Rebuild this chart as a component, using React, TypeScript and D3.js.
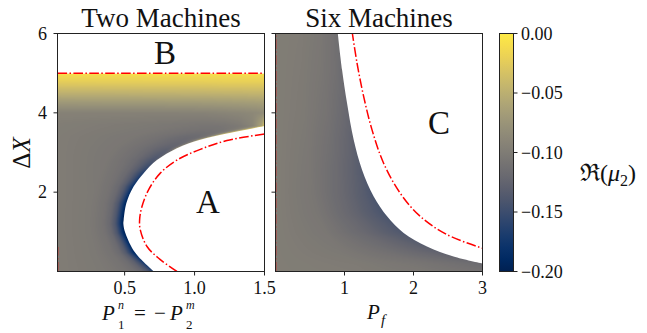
import React, { useMemo } from "react";
import * as d3 from "d3";

// axes
const leftTicksX = [0.5, 1.0, 1.5];
const rightTicksX = [1, 2, 3];
const ticksY = [2, 4, 6];
const cbarTicks = [0, -0.05, -0.1, -0.15, -0.2];
const vRange = [-0.2, 0];

// Two machines: edge of the white region A, [P, dX]
const edgeA = [
  [0.71, 0], [0.576, 0.47], [0.505, 0.97], [0.491, 1.2], [0.493, 1.3], [0.512, 1.72],
  [0.564, 2.14], [0.636, 2.48], [0.731, 2.81], [0.874, 3.11], [1.041, 3.32],
  [1.231, 3.48], [1.505, 3.67],
];
// red dash-dot boundary in region A
const redA = [
  [0.874, 0], [0.755, 0.3], [0.66, 0.63], [0.612, 1.05], [0.607, 1.3], [0.624, 1.64],
  [0.671, 2.06], [0.755, 2.48], [0.874, 2.81], [1.041, 3.08], [1.231, 3.3], [1.505, 3.47],
];
const redStubA = [[0.02, 0], [0.02, 0.62]];
const bandB = 5;

// Six machines: edge of white region C, [Pf, dX]
const edgeC = [
  [0.9, 6.05], [0.965, 5.08], [1.037, 4.24], [1.133, 3.32], [1.255, 2.56], [1.423, 1.89],
  [1.617, 1.39], [1.857, 0.97], [2.195, 0.63], [2.58, 0.38], [3.01, 0.2],
];
const redC = [
  [1.11, 6.05], [1.182, 5.25], [1.278, 4.41], [1.399, 3.57], [1.567, 2.73], [1.809, 1.97],
  [2.098, 1.39], [2.484, 0.93], [3.01, 0.58],
];
const redEdgeC = [[0, 0], [0, 6]];

// colour readings, rows of dX, columns = fraction of the way from left edge to the white edge
const leftRowsY = [0, 0.5, 1.0, 1.5, 2.0, 2.5, 3.0, 3.4, 3.7, 4.0, 4.25, 4.5, 4.75, 5.0];
const leftT = [0, 0.5, 0.7, 0.8, 0.88, 0.94, 0.985, 1];
const leftVals = [
  [-0.099, -0.103, -0.108, -0.113, -0.122, -0.138, -0.16, -0.17],
  [-0.099, -0.103, -0.109, -0.117, -0.135, -0.162, -0.188, -0.194],
  [-0.099, -0.103, -0.11, -0.12, -0.14, -0.168, -0.195, -0.2],
  [-0.099, -0.103, -0.11, -0.12, -0.14, -0.168, -0.194, -0.199],
  [-0.099, -0.103, -0.11, -0.119, -0.136, -0.16, -0.185, -0.19],
  [-0.099, -0.104, -0.111, -0.119, -0.132, -0.148, -0.162, -0.16],
  [-0.099, -0.105, -0.113, -0.12, -0.128, -0.133, -0.125, -0.09],
  [-0.099, -0.105, -0.112, -0.117, -0.118, -0.112, -0.08, -0.03],
  [-0.098, -0.103, -0.106, -0.105, -0.1, -0.09, -0.06, -0.02],
  [-0.094, -0.094, -0.093, -0.091, -0.089, -0.087, -0.084, -0.082],
  [-0.072, -0.071, -0.07, -0.069, -0.068, -0.067, -0.066, -0.066],
  [-0.048, -0.047, -0.046, -0.045, -0.045, -0.044, -0.044, -0.044],
  [-0.026, -0.025, -0.025, -0.024, -0.024, -0.024, -0.024, -0.024],
  [-0.008, -0.008, -0.008, -0.008, -0.008, -0.008, -0.008, -0.008],
];
const rightRowsY = [0, 0.2, 0.5, 1.0, 1.5, 2.0, 3.0, 4.0, 5.0, 6.0];
const rightT = [0, 0.4, 0.7, 0.9, 1];
const rightVals = [
  [-0.098, -0.1, -0.104, -0.108, -0.11],
  [-0.098, -0.101, -0.107, -0.113, -0.117],
  [-0.098, -0.103, -0.113, -0.122, -0.127],
  [-0.098, -0.105, -0.12, -0.132, -0.138],
  [-0.098, -0.106, -0.122, -0.135, -0.142],
  [-0.098, -0.106, -0.12, -0.132, -0.14],
  [-0.098, -0.104, -0.114, -0.124, -0.13],
  [-0.098, -0.102, -0.109, -0.117, -0.122],
  [-0.098, -0.101, -0.106, -0.112, -0.117],
  [-0.098, -0.1, -0.104, -0.11, -0.114],
];

const FONT = "Liberation Serif, DejaVu Serif, serif";
const INK = "#222";
const RED = "#ff0000";
const DASH = "9.6 2.4 1.5 2.4";

const top = 33.5;
const bottom = 271.5;
const yScale = d3.scaleLinear().domain([0, 6]).range([bottom, top]);
const xLeft = d3.scaleLinear().domain([0.02, 1.5]).range([57.5, 264.5]);
const xRight = d3.scaleLinear().domain([0, 3]).range([275.5, 482.5]);
const cbar = d3.scaleLinear().domain(vRange).range([bottom, top]);

const lut = d3.range(256).map((i) => d3.rgb(d3.interpolateCividis(i / 255)));

function lerpRow(tf: number[], row: number[], t: number) {
  const tt = Math.max(0, Math.min(1, t));
  const j = Math.max(0, Math.min(tf.length - 2, d3.bisectRight(tf, tt) - 1));
  const b = (tt - tf[j]) / (tf[j + 1] - tf[j]);
  return row[j] * (1 - b) + row[j + 1] * b;
}

function field(rows: number[], tf: number[], vals: number[][], y: number, t: number) {
  const i = Math.max(0, Math.min(rows.length - 2, d3.bisectRight(rows, y) - 1));
  const a = Math.max(0, Math.min(1, (y - rows[i]) / (rows[i + 1] - rows[i])));
  return lerpRow(tf, vals[i], t) * (1 - a) + lerpRow(tf, vals[i + 1], t) * a;
}

function heatmap(xs: any, edge: number[][], rows: number[], tf: number[], vals: number[][], yMax: number) {
  const [px0, px1] = xs.range();
  const w = Math.round(px1 - px0);
  const h = Math.round(bottom - top);
  const sorted = edge.slice().sort((a, b) => a[1] - b[1]);
  const edgeX = d3.scaleLinear().domain(sorted.map((d) => d[1])).range(sorted.map((d) => d[0])).clamp(true);
  const xMin = xs.domain()[0];
  const canvas = document.createElement("canvas");
  canvas.width = w;
  canvas.height = h;
  const ctx = canvas.getContext("2d")!;
  const img = ctx.createImageData(w, h);
  for (let j = 0; j < h; j++) {
    const yv = yScale.invert(top + j + 0.5);
    const xb = edgeX(yv);
    for (let i = 0; i < w; i++) {
      const k = (j * w + i) * 4;
      const xv = xs.invert(px0 + i + 0.5);
      if (yv > yMax) {
        img.data[k] = img.data[k + 1] = img.data[k + 2] = 255;
      } else {
        const v = field(rows, tf, vals, yv, (xv - xMin) / (xb - xMin));
        const c = lut[Math.max(0, Math.min(255, Math.round(((v - vRange[0]) / (vRange[1] - vRange[0])) * 255)))];
        img.data[k] = c.r;
        img.data[k + 1] = c.g;
        img.data[k + 2] = c.b;
      }
      img.data[k + 3] = 255;
    }
  }
  ctx.putImageData(img, 0, 0);
  return canvas.toDataURL();
}

const Panel = ({ id, xs, ticksX, fmt, href, white, reds, showY }: any) => {
  const [x0, x1] = xs.range();
  const line = d3.line<number[]>().x((d) => xs(d[0])).y((d) => yScale(d[1])).curve(d3.curveCatmullRom);
  return (
    <g>
      <clipPath id={id}>
        <rect x={x0} y={top} width={x1 - x0} height={bottom - top} />
      </clipPath>
      <g clipPath={`url(#${id})`}>
        <image href={href} x={x0} y={top} width={x1 - x0} height={bottom - top} />
        {white.map((d: string, i: number) => (
          <path key={i} d={d} fill="#fff" />
        ))}
        {reds.map((r: number[][], i: number) => (
          <path key={i} d={line(r) || ""} fill="none" stroke={RED} strokeWidth={1.5} strokeDasharray={DASH} />
        ))}
      </g>
      <rect x={x0} y={top} width={x1 - x0} height={bottom - top} fill="none" stroke={INK} strokeWidth={1} />
      {ticksX.map((t: number) => (
        <g key={t}>
          <line x1={xs(t)} x2={xs(t)} y1={bottom} y2={bottom + 4} stroke={INK} />
          <text x={xs(t)} y={294} textAnchor="middle" fontSize={18}>
            {fmt(t)}
          </text>
        </g>
      ))}
      {ticksY.map((t) => (
        <g key={t}>
          <line x1={x0 - 4} x2={x0} y1={yScale(t)} y2={yScale(t)} stroke={INK} />
          {showY && (
            <text x={47} y={yScale(t) + 6} textAnchor="end" fontSize={18}>
              {t}
            </text>
          )}
        </g>
      ))}
    </g>
  );
};

export default function App() {
  const leftImg = useMemo(() => heatmap(xLeft, edgeA, leftRowsY, leftT, leftVals, bandB), []);
  const rightImg = useMemo(() => heatmap(xRight, edgeC, rightRowsY, rightT, rightVals, 7), []);

  const lineL = d3.line<number[]>().x((d) => xLeft(d[0])).y((d) => yScale(d[1])).curve(d3.curveCatmullRom);
  const lineR = d3.line<number[]>().x((d) => xRight(d[0])).y((d) => yScale(d[1])).curve(d3.curveCatmullRom);
  const whiteA = `${lineL(edgeA)}L${xLeft(1.6)},${yScale(3.67)}L${xLeft(1.6)},${yScale(-0.2)}L${xLeft(0.71)},${yScale(-0.2)}Z`;
  const whiteB = `M${xLeft(0)},${yScale(6.2)}H${xLeft(1.6)}V${yScale(bandB)}H${xLeft(0)}Z`;
  const whiteC = `${lineR(edgeC)}L${xRight(3.1)},${yScale(0.2)}L${xRight(3.1)},${yScale(6.2)}L${xRight(0.9)},${yScale(6.2)}Z`;

  const [c0, c1] = [499.5, 513.5];
  const stops = d3.range(0, 1.0001, 0.05);

  return (
    <svg width={647} height={333} style={{ position: "absolute", left: 0, top: 0, background: "#fff" }} fontFamily={FONT} fill="#111">
      <text x={161} y={27} textAnchor="middle" fontSize={27}>Two Machines</text>
      <text x={379} y={27} textAnchor="middle" fontSize={27}>Six Machines</text>

      <Panel id="clipL" xs={xLeft} ticksX={leftTicksX} fmt={d3.format(".1f")} href={leftImg}
        white={[whiteA, whiteB]} reds={[redA, redStubA, [[0.02, bandB], [1.5, bandB]]]} showY />
      <Panel id="clipR" xs={xRight} ticksX={rightTicksX} fmt={d3.format("d")} href={rightImg}
        white={[whiteC]} reds={[redC, redEdgeC]} showY={false} />

      <text x={165} y={64} textAnchor="middle" fontSize={33}>B</text>
      <text x={208} y={213} textAnchor="middle" fontSize={33}>A</text>
      <text x={439} y={134} textAnchor="middle" fontSize={33}>C</text>

      <text transform="translate(30,153) rotate(-90)" textAnchor="middle" fontSize={25}>
        Δ<tspan fontStyle="italic">X</tspan>
      </text>

      <g fontSize={21}>
        <text x={102} y={320} fontStyle="italic">P</text>
        <text x={118} y={309} fontSize={12} fontStyle="italic">n</text>
        <text x={118} y={329} fontSize={13}>1</text>
        <text x={140} y={320} textAnchor="middle">=</text>
        <text x={160} y={320} textAnchor="middle">−</text>
        <text x={170} y={320} fontStyle="italic">P</text>
        <text x={186} y={309} fontSize={12} fontStyle="italic">m</text>
        <text x={186} y={329} fontSize={13}>2</text>
      </g>
      <g fontSize={21}>
        <text x={367} y={319} fontStyle="italic">P</text>
        <text x={381} y={325} fontSize={15} fontStyle="italic">f</text>
      </g>

      <defs>
        <linearGradient id="cbarGrad" x1="0" y1="1" x2="0" y2="0">
          {stops.map((s) => (
            <stop key={s} offset={s} stopColor={d3.interpolateCividis(s)} />
          ))}
        </linearGradient>
      </defs>
      <rect x={c0} y={top} width={c1 - c0} height={bottom - top} fill="url(#cbarGrad)" stroke={INK} strokeWidth={1} />
      {cbarTicks.map((t) => (
        <g key={t}>
          <line x1={c1} x2={c1 + 4} y1={cbar(t)} y2={cbar(t)} stroke={INK} />
          <text x={521} y={cbar(t) + 6} fontSize={18}>
            {d3.format(".2f")(t)}
          </text>
        </g>
      ))}
      <text x={580} y={181} fontSize={24}>
        ℜ(<tspan fontStyle="italic">μ</tspan>
        <tspan fontSize={16} dy={5}>2</tspan>
        <tspan dy={-5}>)</tspan>
      </text>
    </svg>
  );
}
